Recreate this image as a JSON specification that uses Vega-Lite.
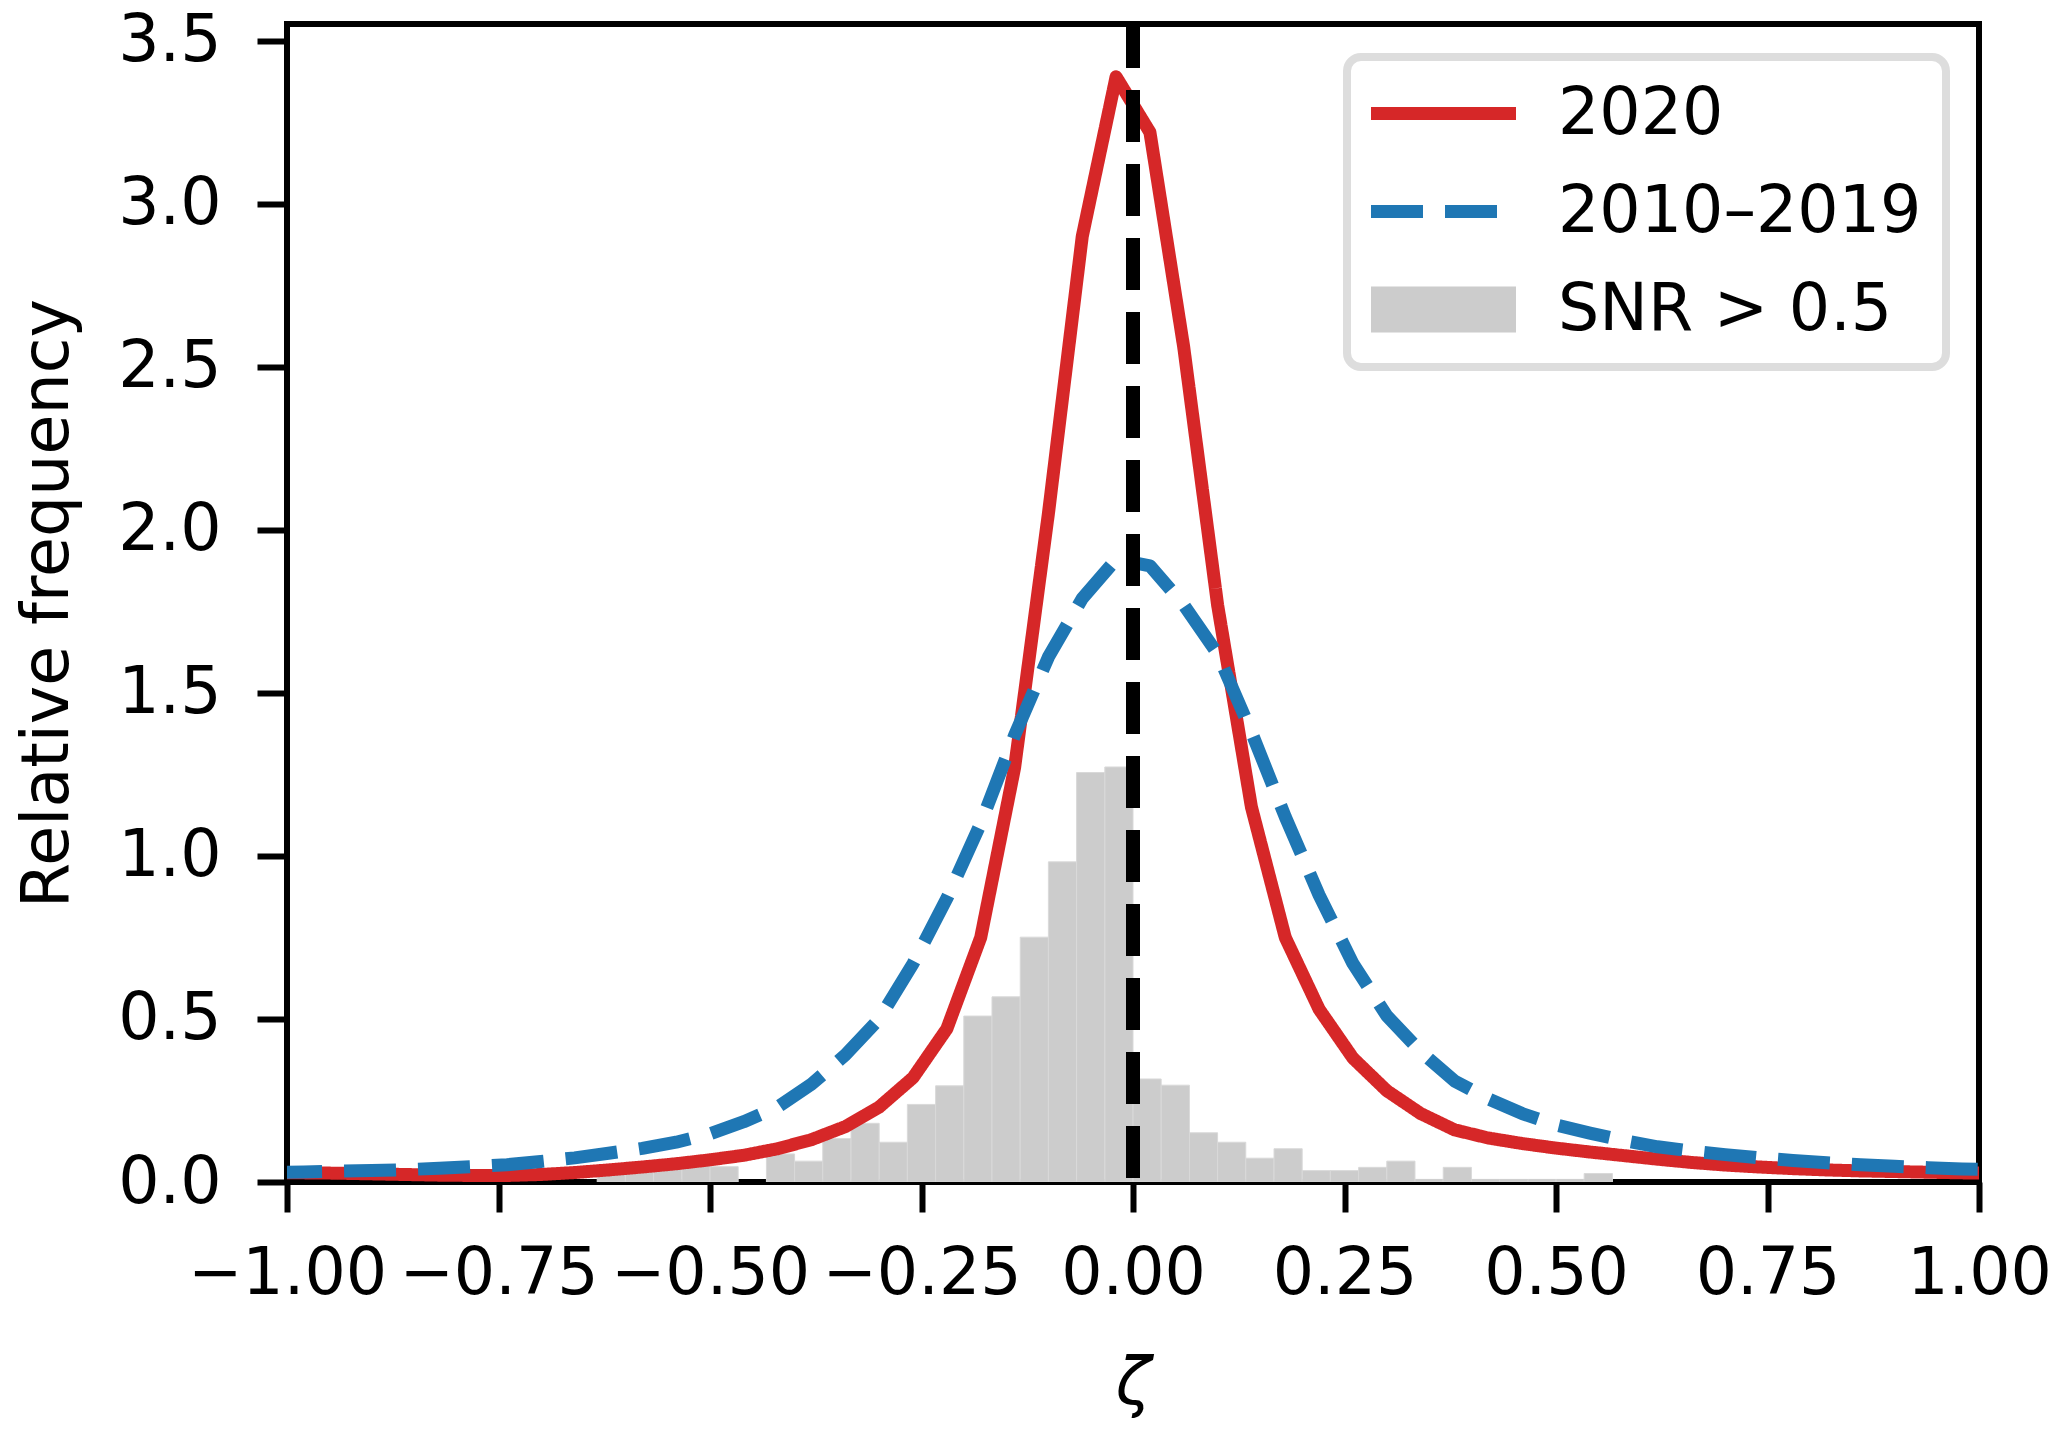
{
  "$schema": "https://vega.github.io/schema/vega-lite/v6.json",
  "width": 1692,
  "height": 1158,
  "autosize": "none",
  "padding": {"left": 287, "top": 24, "right": 88, "bottom": 249},
  "background": "white",
  "config": {
    "font": "DejaVu Sans",
    "view": {"stroke": "black", "strokeWidth": 6},
    "legend": {"strokeWidth": 8},
    "axis": {
      "domain": false,
      "grid": false,
      "ticks": true,
      "tickColor": "black",
      "tickWidth": 6,
      "tickSize": 30,
      "labelFont": "DejaVu Sans",
      "labelFontSize": 65,
      "labelColor": "black",
      "labelLimit": 0,
      "titleFont": "DejaVu Sans",
      "titleFontSize": 65,
      "titleFontWeight": "normal",
      "titleColor": "black"
    }
  },
  "datasets": {
    "hist": [
      {"lo": -0.6333, "hi": -0.6, "freq": 0.03},
      {"lo": -0.6, "hi": -0.5667, "freq": 0.05},
      {"lo": -0.5667, "hi": -0.5333, "freq": 0.06},
      {"lo": -0.5333, "hi": -0.5, "freq": 0.06},
      {"lo": -0.5, "hi": -0.4667, "freq": 0.047},
      {"lo": -0.4333, "hi": -0.4, "freq": 0.086},
      {"lo": -0.4, "hi": -0.3667, "freq": 0.064},
      {"lo": -0.3667, "hi": -0.3333, "freq": 0.133},
      {"lo": -0.3333, "hi": -0.3, "freq": 0.18},
      {"lo": -0.3, "hi": -0.2667, "freq": 0.122},
      {"lo": -0.2667, "hi": -0.2333, "freq": 0.238},
      {"lo": -0.2333, "hi": -0.2, "freq": 0.295},
      {"lo": -0.2, "hi": -0.1667, "freq": 0.509},
      {"lo": -0.1667, "hi": -0.1333, "freq": 0.568},
      {"lo": -0.1333, "hi": -0.1, "freq": 0.751},
      {"lo": -0.1, "hi": -0.0667, "freq": 0.982},
      {"lo": -0.0667, "hi": -0.0333, "freq": 1.256},
      {"lo": -0.0333, "hi": 0.0, "freq": 1.273},
      {"lo": 0.0, "hi": 0.0333, "freq": 0.316},
      {"lo": 0.0333, "hi": 0.0667, "freq": 0.297},
      {"lo": 0.0667, "hi": 0.1, "freq": 0.151},
      {"lo": 0.1, "hi": 0.1333, "freq": 0.122},
      {"lo": 0.1333, "hi": 0.1667, "freq": 0.073},
      {"lo": 0.1667, "hi": 0.2, "freq": 0.102},
      {"lo": 0.2, "hi": 0.2333, "freq": 0.035},
      {"lo": 0.2333, "hi": 0.2667, "freq": 0.035},
      {"lo": 0.2667, "hi": 0.3, "freq": 0.045},
      {"lo": 0.3, "hi": 0.3333, "freq": 0.064},
      {"lo": 0.3333, "hi": 0.3667, "freq": 0.008},
      {"lo": 0.3667, "hi": 0.4, "freq": 0.045},
      {"lo": 0.4, "hi": 0.4333, "freq": 0.008},
      {"lo": 0.4333, "hi": 0.4667, "freq": 0.008},
      {"lo": 0.4667, "hi": 0.5, "freq": 0.008},
      {"lo": 0.5, "hi": 0.5333, "freq": 0.008},
      {"lo": 0.5333, "hi": 0.5667, "freq": 0.026}
    ],
    "curves": [
      {"zeta": -1.02, "freq": 0.028, "series": "2020"},
      {"zeta": -0.98, "freq": 0.028, "series": "2020"},
      {"zeta": -0.94, "freq": 0.027, "series": "2020"},
      {"zeta": -0.90, "freq": 0.025, "series": "2020"},
      {"zeta": -0.86, "freq": 0.023, "series": "2020"},
      {"zeta": -0.82, "freq": 0.021, "series": "2020"},
      {"zeta": -0.78, "freq": 0.02, "series": "2020"},
      {"zeta": -0.74, "freq": 0.02, "series": "2020"},
      {"zeta": -0.70, "freq": 0.023, "series": "2020"},
      {"zeta": -0.66, "freq": 0.029, "series": "2020"},
      {"zeta": -0.62, "freq": 0.037, "series": "2020"},
      {"zeta": -0.58, "freq": 0.046, "series": "2020"},
      {"zeta": -0.54, "freq": 0.056, "series": "2020"},
      {"zeta": -0.50, "freq": 0.068, "series": "2020"},
      {"zeta": -0.46, "freq": 0.082, "series": "2020"},
      {"zeta": -0.42, "freq": 0.102, "series": "2020"},
      {"zeta": -0.38, "freq": 0.13, "series": "2020"},
      {"zeta": -0.34, "freq": 0.17, "series": "2020"},
      {"zeta": -0.30, "freq": 0.23, "series": "2020"},
      {"zeta": -0.26, "freq": 0.32, "series": "2020"},
      {"zeta": -0.22, "freq": 0.47, "series": "2020"},
      {"zeta": -0.18, "freq": 0.75, "series": "2020"},
      {"zeta": -0.14, "freq": 1.27, "series": "2020"},
      {"zeta": -0.10, "freq": 2.05, "series": "2020"},
      {"zeta": -0.06, "freq": 2.90, "series": "2020"},
      {"zeta": -0.02, "freq": 3.39, "series": "2020"},
      {"zeta": 0.02, "freq": 3.22, "series": "2020"},
      {"zeta": 0.06, "freq": 2.56, "series": "2020"},
      {"zeta": 0.10, "freq": 1.77, "series": "2020"},
      {"zeta": 0.14, "freq": 1.15, "series": "2020"},
      {"zeta": 0.18, "freq": 0.75, "series": "2020"},
      {"zeta": 0.22, "freq": 0.53, "series": "2020"},
      {"zeta": 0.26, "freq": 0.38, "series": "2020"},
      {"zeta": 0.30, "freq": 0.28, "series": "2020"},
      {"zeta": 0.34, "freq": 0.21, "series": "2020"},
      {"zeta": 0.38, "freq": 0.16, "series": "2020"},
      {"zeta": 0.42, "freq": 0.135, "series": "2020"},
      {"zeta": 0.46, "freq": 0.118, "series": "2020"},
      {"zeta": 0.50, "freq": 0.104, "series": "2020"},
      {"zeta": 0.54, "freq": 0.092, "series": "2020"},
      {"zeta": 0.58, "freq": 0.081, "series": "2020"},
      {"zeta": 0.62, "freq": 0.07, "series": "2020"},
      {"zeta": 0.66, "freq": 0.06, "series": "2020"},
      {"zeta": 0.70, "freq": 0.052, "series": "2020"},
      {"zeta": 0.74, "freq": 0.046, "series": "2020"},
      {"zeta": 0.78, "freq": 0.041, "series": "2020"},
      {"zeta": 0.82, "freq": 0.037, "series": "2020"},
      {"zeta": 0.86, "freq": 0.034, "series": "2020"},
      {"zeta": 0.90, "freq": 0.032, "series": "2020"},
      {"zeta": 0.94, "freq": 0.03, "series": "2020"},
      {"zeta": 0.98, "freq": 0.028, "series": "2020"},
      {"zeta": 1.02, "freq": 0.027, "series": "2020"},
      {"zeta": -1.02, "freq": 0.029, "series": "2010–2019"},
      {"zeta": -0.98, "freq": 0.031, "series": "2010–2019"},
      {"zeta": -0.94, "freq": 0.033, "series": "2010–2019"},
      {"zeta": -0.90, "freq": 0.035, "series": "2010–2019"},
      {"zeta": -0.86, "freq": 0.038, "series": "2010–2019"},
      {"zeta": -0.82, "freq": 0.042, "series": "2010–2019"},
      {"zeta": -0.78, "freq": 0.047, "series": "2010–2019"},
      {"zeta": -0.74, "freq": 0.053, "series": "2010–2019"},
      {"zeta": -0.70, "freq": 0.063, "series": "2010–2019"},
      {"zeta": -0.66, "freq": 0.074, "series": "2010–2019"},
      {"zeta": -0.62, "freq": 0.088, "series": "2010–2019"},
      {"zeta": -0.58, "freq": 0.103, "series": "2010–2019"},
      {"zeta": -0.54, "freq": 0.122, "series": "2010–2019"},
      {"zeta": -0.50, "freq": 0.148, "series": "2010–2019"},
      {"zeta": -0.46, "freq": 0.185, "series": "2010–2019"},
      {"zeta": -0.42, "freq": 0.23, "series": "2010–2019"},
      {"zeta": -0.38, "freq": 0.30, "series": "2010–2019"},
      {"zeta": -0.34, "freq": 0.39, "series": "2010–2019"},
      {"zeta": -0.30, "freq": 0.50, "series": "2010–2019"},
      {"zeta": -0.26, "freq": 0.67, "series": "2010–2019"},
      {"zeta": -0.22, "freq": 0.87, "series": "2010–2019"},
      {"zeta": -0.18, "freq": 1.10, "series": "2010–2019"},
      {"zeta": -0.14, "freq": 1.37, "series": "2010–2019"},
      {"zeta": -0.10, "freq": 1.61, "series": "2010–2019"},
      {"zeta": -0.06, "freq": 1.79, "series": "2010–2019"},
      {"zeta": -0.02, "freq": 1.91, "series": "2010–2019"},
      {"zeta": 0.02, "freq": 1.89, "series": "2010–2019"},
      {"zeta": 0.06, "freq": 1.77, "series": "2010–2019"},
      {"zeta": 0.10, "freq": 1.62, "series": "2010–2019"},
      {"zeta": 0.14, "freq": 1.38, "series": "2010–2019"},
      {"zeta": 0.18, "freq": 1.12, "series": "2010–2019"},
      {"zeta": 0.22, "freq": 0.88, "series": "2010–2019"},
      {"zeta": 0.26, "freq": 0.67, "series": "2010–2019"},
      {"zeta": 0.30, "freq": 0.51, "series": "2010–2019"},
      {"zeta": 0.34, "freq": 0.40, "series": "2010–2019"},
      {"zeta": 0.38, "freq": 0.31, "series": "2010–2019"},
      {"zeta": 0.42, "freq": 0.255, "series": "2010–2019"},
      {"zeta": 0.46, "freq": 0.21, "series": "2010–2019"},
      {"zeta": 0.50, "freq": 0.175, "series": "2010–2019"},
      {"zeta": 0.54, "freq": 0.15, "series": "2010–2019"},
      {"zeta": 0.58, "freq": 0.127, "series": "2010–2019"},
      {"zeta": 0.62, "freq": 0.108, "series": "2010–2019"},
      {"zeta": 0.66, "freq": 0.095, "series": "2010–2019"},
      {"zeta": 0.70, "freq": 0.084, "series": "2010–2019"},
      {"zeta": 0.74, "freq": 0.074, "series": "2010–2019"},
      {"zeta": 0.78, "freq": 0.066, "series": "2010–2019"},
      {"zeta": 0.82, "freq": 0.059, "series": "2010–2019"},
      {"zeta": 0.86, "freq": 0.053, "series": "2010–2019"},
      {"zeta": 0.90, "freq": 0.048, "series": "2010–2019"},
      {"zeta": 0.94, "freq": 0.044, "series": "2010–2019"},
      {"zeta": 0.98, "freq": 0.04, "series": "2010–2019"},
      {"zeta": 1.02, "freq": 0.038, "series": "2010–2019"}
    ],
    "zero": [{"zeta": 0}]
  },
  "layer": [
    {
      "data": {"name": "hist"},
      "transform": [{"calculate": "'SNR > 0.5'", "as": "series"}],
      "mark": {"type": "bar", "stroke": "#d9d9d9", "strokeWidth": 1, "clip": true},
      "encoding": {
        "x": {
          "field": "lo", "type": "quantitative",
          "scale": {"domain": [-1, 1], "nice": false, "zero": false},
          "axis": {
            "title": "ζ",
            "titleFontStyle": "italic",
            "titlePadding": 46,
            "values": [-1, -0.75, -0.5, -0.25, 0, 0.25, 0.5, 0.75, 1],
            "format": ".2f",
            "labelPadding": 30,
            "labelFlush": false,
            "labelOverlap": false
          }
        },
        "x2": {"field": "hi"},
        "y": {
          "field": "freq", "type": "quantitative",
          "scale": {"domain": [0, 3.552], "nice": false},
          "axis": {
            "title": "Relative frequency",
            "titlePadding": 36,
            "values": [0, 0.5, 1, 1.5, 2, 2.5, 3, 3.5],
            "format": ".1f",
            "labelPadding": 36,
            "labelFlush": false,
            "labelOverlap": false
          }
        },
        "y2": {"datum": 0},
        "color": {
          "field": "series", "type": "nominal",
          "scale": {
            "domain": ["2020", "2010–2019", "SNR > 0.5"],
            "range": ["#d62728", "#1f77b4", "#cccccc"]
          },
          "legend": {
            "orient": "none",
            "legendX": 1060,
            "legendY": 33,
            "title": null,
            "symbolType": "stroke",
            "symbolSize": 21025,
            "symbolStrokeWidth": {"expr": "datum.value === 'SNR > 0.5' ? 46 : 13"},
            "symbolOffset": 40,
            "clipHeight": 65,
            "rowPadding": 32,
            "labelFont": "DejaVu Sans",
            "labelFontSize": 65,
            "labelColor": "black",
            "labelOffset": 82,
            "labelLimit": 1000,
            "padding": 24,
            "strokeColor": "#dddddd",
            "fillColor": "white",
            "cornerRadius": 14
          }
        }
      }
    },
    {
      "data": {"name": "curves"},
      "transform": [{"filter": "datum.series === '2020'"}],
      "mark": {"type": "line", "strokeWidth": 13, "strokeJoin": "round", "clip": true},
      "encoding": {
        "x": {"field": "zeta", "type": "quantitative"},
        "y": {"field": "freq", "type": "quantitative"},
        "color": {"field": "series", "type": "nominal"},
        "strokeDash": {
          "field": "series", "type": "nominal",
          "scale": {"domain": ["2020", "2010–2019", "SNR > 0.5"], "range": [[1, 0], [52, 22], [1, 0]]},
          "legend": {"title": null}
        }
      }
    },
    {
      "data": {"name": "curves"},
      "transform": [{"filter": "datum.series === '2010–2019'"}],
      "mark": {"type": "line", "strokeWidth": 13, "strokeJoin": "round", "clip": true},
      "encoding": {
        "x": {"field": "zeta", "type": "quantitative"},
        "y": {"field": "freq", "type": "quantitative"},
        "color": {"field": "series", "type": "nominal"},
        "strokeDash": {"field": "series", "type": "nominal"}
      }
    },
    {
      "data": {"name": "zero"},
      "mark": {"type": "rule", "color": "black", "strokeWidth": 14, "strokeDash": [52, 22], "strokeDashOffset": 8},
      "encoding": {
        "x": {"field": "zeta", "type": "quantitative"}
      }
    }
  ]
}
